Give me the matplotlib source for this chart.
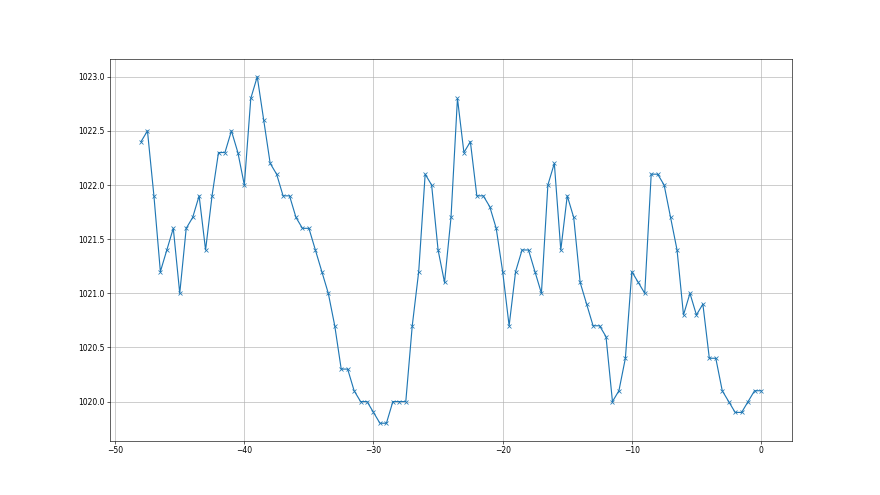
import numpy as np
import matplotlib
matplotlib.use('Agg')
import matplotlib.pyplot as plt

# Data: jam relatif (0 = sekarang) dan tekanan udara (hPa)
jam = np.arange(-48, 0.5, 0.5)
tekanan = [
    1022.4, 1022.5, 1021.9, 1021.2, 1021.4, 1021.6, 1021.0, 1021.6, 1021.7, 1021.9,
    1021.4, 1021.9, 1022.3, 1022.3, 1022.5, 1022.3, 1022.0, 1022.8, 1023.0, 1022.6,
    1022.2, 1022.1, 1021.9, 1021.9, 1021.7, 1021.6, 1021.6, 1021.4, 1021.2, 1021.0,
    1020.7, 1020.3, 1020.3, 1020.1, 1020.0, 1020.0, 1019.9, 1019.8, 1019.8, 1020.0,
    1020.0, 1020.0, 1020.7, 1021.2, 1022.1, 1022.0, 1021.4, 1021.1, 1021.7, 1022.8,
    1022.3, 1022.4, 1021.9, 1021.9, 1021.8, 1021.6, 1021.2, 1020.7, 1021.2, 1021.4,
    1021.4, 1021.2, 1021.0, 1022.0, 1022.2, 1021.4, 1021.9, 1021.7, 1021.1, 1020.9,
    1020.7, 1020.7, 1020.6, 1020.0, 1020.1, 1020.4, 1021.2, 1021.1, 1021.0, 1022.1,
    1022.1, 1022.0, 1021.7, 1021.4, 1020.8, 1021.0, 1020.8, 1020.9, 1020.4, 1020.4,
    1020.1, 1020.0, 1019.9, 1019.9, 1020.0, 1020.1, 1020.1,
]

fig = plt.figure(figsize=(16, 9), dpi=55)
plt.plot(jam, tekanan, marker='x')
plt.grid(True)

plt.savefig('out.png', dpi=55)
